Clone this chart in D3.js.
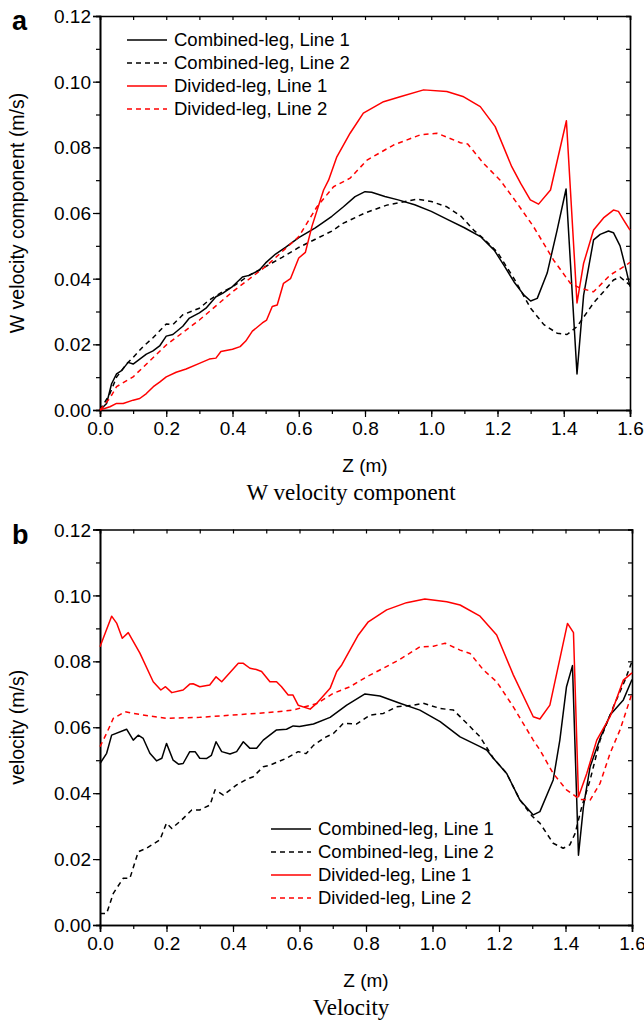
<!DOCTYPE html>
<html>
<head>
<meta charset="utf-8">
<script src="https://cdn.jsdelivr.net/npm/d3@7"></script>
<style>
  body { margin: 0; background: #fff; }
  svg { display: block; }
  .tick text { font-family: "Liberation Sans", Arial, sans-serif; font-size: 19px; fill: #000; }
</style>
</head>
<body>
<div id="chart"></div>
<script>
// x ticks / y ticks shared by both panels
const zTicks = [0, 0.2, 0.4, 0.6, 0.8, 1.0, 1.2, 1.4, 1.6];
const vTicks = [0, 0.02, 0.04, 0.06, 0.08, 0.10, 0.12];
const seriesNames = ["Combined-leg, Line 1", "Combined-leg, Line 2", "Divided-leg, Line 1", "Divided-leg, Line 2"];

// panel a: W velocity component, [z, value]
const aComb1 = [[0,0],[0.02,0.002],[0.035,0.008],[0.05,0.011],[0.065,0.012],[0.085,0.0145],[0.1,0.014],[0.12,0.0155],[0.14,0.017],[0.16,0.018],[0.18,0.0195],[0.2,0.0225],[0.22,0.023],[0.25,0.0255],[0.27,0.028],[0.3,0.0296],[0.32,0.031],[0.35,0.0345],[0.37,0.0355],[0.4,0.0376],[0.43,0.0405],[0.45,0.041],[0.48,0.0425],[0.5,0.0448],[0.53,0.0475],[0.56,0.0495],[0.6,0.0525],[0.65,0.0555],[0.7,0.059],[0.735,0.0619],[0.77,0.065],[0.8,0.0665],[0.82,0.0663],[0.86,0.065],[0.9,0.064],[0.95,0.0625],[1.0,0.0605],[1.05,0.058],[1.1,0.0555],[1.15,0.0527],[1.19,0.0487],[1.22,0.044],[1.25,0.039],[1.28,0.035],[1.3,0.0332],[1.32,0.034],[1.35,0.0417],[1.38,0.0548],[1.407,0.0673],[1.44,0.011],[1.46,0.035],[1.49,0.0518],[1.51,0.0535],[1.535,0.0545],[1.55,0.054],[1.57,0.05],[1.59,0.042],[1.6,0.0376]];
const aComb2 = [[0,0],[0.03,0.005],[0.05,0.01],[0.08,0.014],[0.1,0.016],[0.13,0.0193],[0.16,0.022],[0.2,0.0262],[0.22,0.026],[0.25,0.029],[0.3,0.031],[0.33,0.0335],[0.37,0.036],[0.4,0.0375],[0.45,0.041],[0.5,0.0437],[0.55,0.0465],[0.6,0.0495],[0.65,0.052],[0.7,0.0545],[0.735,0.0569],[0.8,0.06],[0.866,0.0624],[0.957,0.0642],[1.0,0.0635],[1.047,0.0619],[1.09,0.059],[1.128,0.0548],[1.16,0.052],[1.2,0.048],[1.25,0.04],[1.3,0.031],[1.34,0.026],[1.38,0.0234],[1.41,0.023],[1.44,0.0254],[1.49,0.0326],[1.52,0.036],[1.55,0.0396],[1.57,0.0405],[1.6,0.038]];
const aDiv1 = [[0,0],[0.03,0.001],[0.05,0.002],[0.07,0.002],[0.1,0.003],[0.12,0.0035],[0.14,0.005],[0.161,0.0071],[0.18,0.0085],[0.2,0.0101],[0.23,0.0115],[0.26,0.0125],[0.3,0.0142],[0.33,0.0155],[0.35,0.0158],[0.365,0.0178],[0.4,0.0185],[0.423,0.0193],[0.44,0.021],[0.46,0.024],[0.49,0.0265],[0.503,0.0274],[0.52,0.0315],[0.535,0.032],[0.554,0.0386],[0.575,0.04],[0.6,0.0463],[0.62,0.048],[0.64,0.056],[0.675,0.067],[0.69,0.07],[0.715,0.0771],[0.755,0.0843],[0.795,0.0904],[0.856,0.0939],[0.906,0.0954],[0.977,0.0975],[1.047,0.097],[1.098,0.0954],[1.148,0.0924],[1.193,0.0863],[1.243,0.0741],[1.27,0.069],[1.299,0.064],[1.324,0.0627],[1.36,0.067],[1.408,0.0881],[1.44,0.0326],[1.46,0.0447],[1.49,0.0548],[1.52,0.0585],[1.55,0.0609],[1.565,0.0605],[1.58,0.058],[1.6,0.0548]];
const aDiv2 = [[0,0],[0.03,0.0036],[0.05,0.0071],[0.1,0.0101],[0.2,0.0198],[0.3,0.0274],[0.4,0.036],[0.5,0.0437],[0.6,0.0528],[0.655,0.0619],[0.705,0.068],[0.755,0.0706],[0.806,0.0761],[0.886,0.0807],[0.967,0.0838],[1.017,0.0843],[1.05,0.083],[1.088,0.0814],[1.11,0.081],[1.158,0.0751],[1.208,0.07],[1.259,0.063],[1.309,0.0558],[1.369,0.0457],[1.42,0.0386],[1.45,0.0371],[1.49,0.036],[1.54,0.0411],[1.59,0.0442],[1.6,0.045]];

// panel b: velocity
const bComb1 = [[0,0.049],[0.02,0.0521],[0.035,0.0576],[0.08,0.0594],[0.1,0.0561],[0.115,0.0576],[0.13,0.0566],[0.15,0.0521],[0.17,0.0498],[0.186,0.0506],[0.2,0.0551],[0.22,0.05],[0.236,0.0488],[0.25,0.049],[0.27,0.0526],[0.286,0.0526],[0.3,0.0506],[0.32,0.0505],[0.335,0.0515],[0.349,0.0556],[0.366,0.0526],[0.391,0.0519],[0.411,0.0526],[0.431,0.0556],[0.451,0.0536],[0.471,0.0536],[0.491,0.0561],[0.531,0.0592],[0.561,0.0594],[0.581,0.0604],[0.6,0.0602],[0.642,0.061],[0.692,0.063],[0.742,0.0667],[0.797,0.0701],[0.842,0.0695],[0.902,0.0673],[0.962,0.0652],[1.023,0.0617],[1.083,0.0571],[1.143,0.0541],[1.163,0.0531],[1.183,0.0506],[1.223,0.046],[1.263,0.0379],[1.303,0.0334],[1.323,0.0344],[1.363,0.044],[1.383,0.0561],[1.403,0.0723],[1.421,0.0787],[1.439,0.0212],[1.454,0.0359],[1.474,0.048],[1.504,0.0566],[1.534,0.0637],[1.574,0.0683],[1.6,0.0745]];
const bComb2 = [[0,0.0035],[0.02,0.0035],[0.04,0.0096],[0.07,0.0142],[0.09,0.0142],[0.115,0.0222],[0.14,0.0233],[0.18,0.0258],[0.2,0.0309],[0.216,0.0293],[0.246,0.0319],[0.276,0.0349],[0.3,0.0349],[0.331,0.0364],[0.346,0.041],[0.371,0.0394],[0.411,0.0425],[0.441,0.0442],[0.461,0.045],[0.491,0.048],[0.511,0.0485],[0.561,0.0506],[0.596,0.0526],[0.62,0.052],[0.642,0.0545],[0.677,0.0569],[0.702,0.0581],[0.732,0.0612],[0.772,0.061],[0.812,0.0637],[0.852,0.0642],[0.892,0.0662],[0.942,0.0667],[0.972,0.0673],[1.023,0.0657],[1.063,0.0652],[1.103,0.0612],[1.143,0.0571],[1.183,0.0506],[1.223,0.046],[1.263,0.0379],[1.3,0.033],[1.323,0.0309],[1.363,0.0248],[1.393,0.0233],[1.413,0.0243],[1.429,0.0278],[1.449,0.0359],[1.474,0.044],[1.504,0.0561],[1.544,0.0662],[1.579,0.0743],[1.6,0.08]];
const bDiv1 = [[0,0.0844],[0.035,0.0937],[0.05,0.0916],[0.067,0.087],[0.085,0.0887],[0.12,0.0825],[0.16,0.0738],[0.183,0.0713],[0.197,0.0723],[0.216,0.0705],[0.25,0.0713],[0.27,0.0731],[0.28,0.0732],[0.3,0.0723],[0.33,0.0728],[0.349,0.0753],[0.366,0.0738],[0.416,0.0794],[0.431,0.0794],[0.451,0.0779],[0.47,0.0775],[0.486,0.0769],[0.511,0.0738],[0.531,0.0738],[0.546,0.0723],[0.566,0.0698],[0.58,0.0698],[0.596,0.0667],[0.632,0.0655],[0.652,0.0673],[0.692,0.0718],[0.712,0.0769],[0.727,0.0789],[0.777,0.088],[0.807,0.092],[0.862,0.0956],[0.922,0.0978],[0.977,0.0989],[1.043,0.0981],[1.083,0.0971],[1.143,0.0937],[1.193,0.088],[1.243,0.0759],[1.303,0.0632],[1.323,0.0625],[1.353,0.0667],[1.406,0.0915],[1.424,0.0887],[1.439,0.0389],[1.464,0.046],[1.494,0.0561],[1.534,0.0632],[1.574,0.0743],[1.6,0.0765]];
const bDiv2 = [[0,0.0541],[0.02,0.0582],[0.04,0.0627],[0.075,0.0647],[0.1,0.0642],[0.15,0.0634],[0.2,0.0627],[0.3,0.063],[0.4,0.0637],[0.5,0.0644],[0.58,0.0652],[0.652,0.0672],[0.702,0.0703],[0.752,0.0723],[0.802,0.0753],[0.852,0.0779],[0.902,0.0806],[0.962,0.0844],[1.003,0.0846],[1.038,0.0855],[1.083,0.0834],[1.113,0.0824],[1.153,0.0774],[1.193,0.0738],[1.243,0.0662],[1.303,0.0561],[1.323,0.0531],[1.363,0.046],[1.403,0.041],[1.444,0.0381],[1.474,0.0379],[1.504,0.043],[1.534,0.0521],[1.564,0.0592],[1.6,0.0703]];

const colors = ["#000", "#000", "#ff0000", "#ff0000"];
const dashes = [null, "5,4", null, "5,4"];

const W = 644, H = 1025;
const svg = d3.select("#chart").append("svg")
  .attr("width", W)
  .attr("height", H);

function drawPanel(opt) {
  const x = d3.scaleLinear().domain([0, 1.6]).range([opt.left, opt.right]);
  const y = d3.scaleLinear().domain([0, 0.12]).range([opt.bottom, opt.top]);
  const g = svg.append("g");

  const minorZ = d3.range(0, 17).map(i => i / 10);
  const minorV = d3.range(0, 13).map(i => i / 100);

  // minor ticks (outer)
  g.append("g")
    .attr("transform", `translate(0,${opt.bottom})`)
    .call(d3.axisBottom(x).tickValues(minorZ).tickSize(4).tickFormat(""));
  g.append("g")
    .attr("transform", `translate(${opt.left},0)`)
    .call(d3.axisLeft(y).tickValues(minorV).tickSize(4).tickFormat(""));

  // major ticks with labels
  g.append("g")
    .attr("transform", `translate(0,${opt.bottom})`)
    .call(d3.axisBottom(x).tickValues(zTicks).tickSize(7).tickPadding(5).tickFormat(d3.format(".1f")));
  g.append("g")
    .attr("transform", `translate(${opt.left},0)`)
    .call(d3.axisLeft(y).tickValues(vTicks).tickSize(7).tickPadding(2).tickFormat(d3.format(".2f")));

  // mirror axes, inward ticks
  g.append("g")
    .attr("transform", `translate(0,${opt.top})`)
    .call(d3.axisTop(x).tickValues(minorZ).tickSize(-4).tickFormat(""));
  g.append("g")
    .attr("transform", `translate(${opt.right},0)`)
    .call(d3.axisRight(y).tickValues(minorV).tickSize(-4).tickFormat(""));

  g.selectAll(".domain").attr("stroke", "#000").attr("stroke-width", 1.6);
  g.selectAll(".tick line").attr("stroke", "#000").attr("stroke-width", 1.2);
  g.selectAll(".tick text").attr("dy", "0.35em");
  g.selectAll(".tick text").filter(function() { return this.parentNode.parentNode.getAttribute("transform").startsWith("translate(0"); })
    .attr("dy", "0.71em");

  const line = d3.line().x(d => x(d[0])).y(d => y(d[1]));

  opt.series.forEach((s, i) => {
    g.append("path")
      .datum(s)
      .attr("fill", "none")
      .attr("stroke", colors[i])
      .attr("stroke-width", 1.5)
      .attr("stroke-dasharray", dashes[i])
      .attr("stroke-linejoin", "round")
      .attr("d", line);
  });

  // legend
  seriesNames.forEach((name, i) => {
    const ly = opt.legY + i * 23;
    g.append("line")
      .attr("x1", opt.legX).attr("x2", opt.legX + 40)
      .attr("y1", ly).attr("y2", ly)
      .attr("stroke", colors[i])
      .attr("stroke-width", 1.5)
      .attr("stroke-dasharray", dashes[i]);
    g.append("text")
      .attr("x", opt.legX + 47)
      .attr("y", ly)
      .attr("dy", "0.35em")
      .style("font-family", "Liberation Sans, Arial, sans-serif")
      .style("font-size", "18.5px")
      .text(name);
  });

  // axis titles
  g.append("text")
    .attr("transform", `translate(24,${(opt.top + opt.bottom) / 2}) rotate(-90)`)
    .attr("text-anchor", "middle")
    .style("font-family", "Liberation Sans, Arial, sans-serif")
    .style("font-size", "19.5px")
    .text(opt.yTitle);
  g.append("text")
    .attr("x", (opt.left + opt.right) / 2)
    .attr("y", opt.bottom + 62)
    .attr("text-anchor", "middle")
    .style("font-family", "Liberation Sans, Arial, sans-serif")
    .style("font-size", "19px")
    .text("Z (m)");
  g.append("text")
    .attr("x", 351)
    .attr("y", opt.bottom + 90)
    .attr("text-anchor", "middle")
    .style("font-family", "Liberation Serif, Times New Roman, serif")
    .style("font-size", "23px")
    .text(opt.caption);
  g.append("text")
    .attr("x", 12)
    .attr("y", opt.top + 14)
    .style("font-family", "Liberation Sans, Arial, sans-serif")
    .style("font-size", "27px")
    .style("font-weight", "bold")
    .text(opt.letter);
}

drawPanel({
  left: 100, right: 630, top: 16, bottom: 410,
  series: [aComb1, aComb2, aDiv1, aDiv2],
  legX: 127, legY: 40,
  yTitle: "W velocity component (m/s)",
  caption: "W velocity component",
  letter: "a"
});

drawPanel({
  left: 100, right: 632, top: 529.5, bottom: 925,
  series: [bComb1, bComb2, bDiv1, bDiv2],
  legX: 271, legY: 829,
  yTitle: "velocity (m/s)",
  caption: "Velocity",
  letter: "b"
});
</script>
</body>
</html>
